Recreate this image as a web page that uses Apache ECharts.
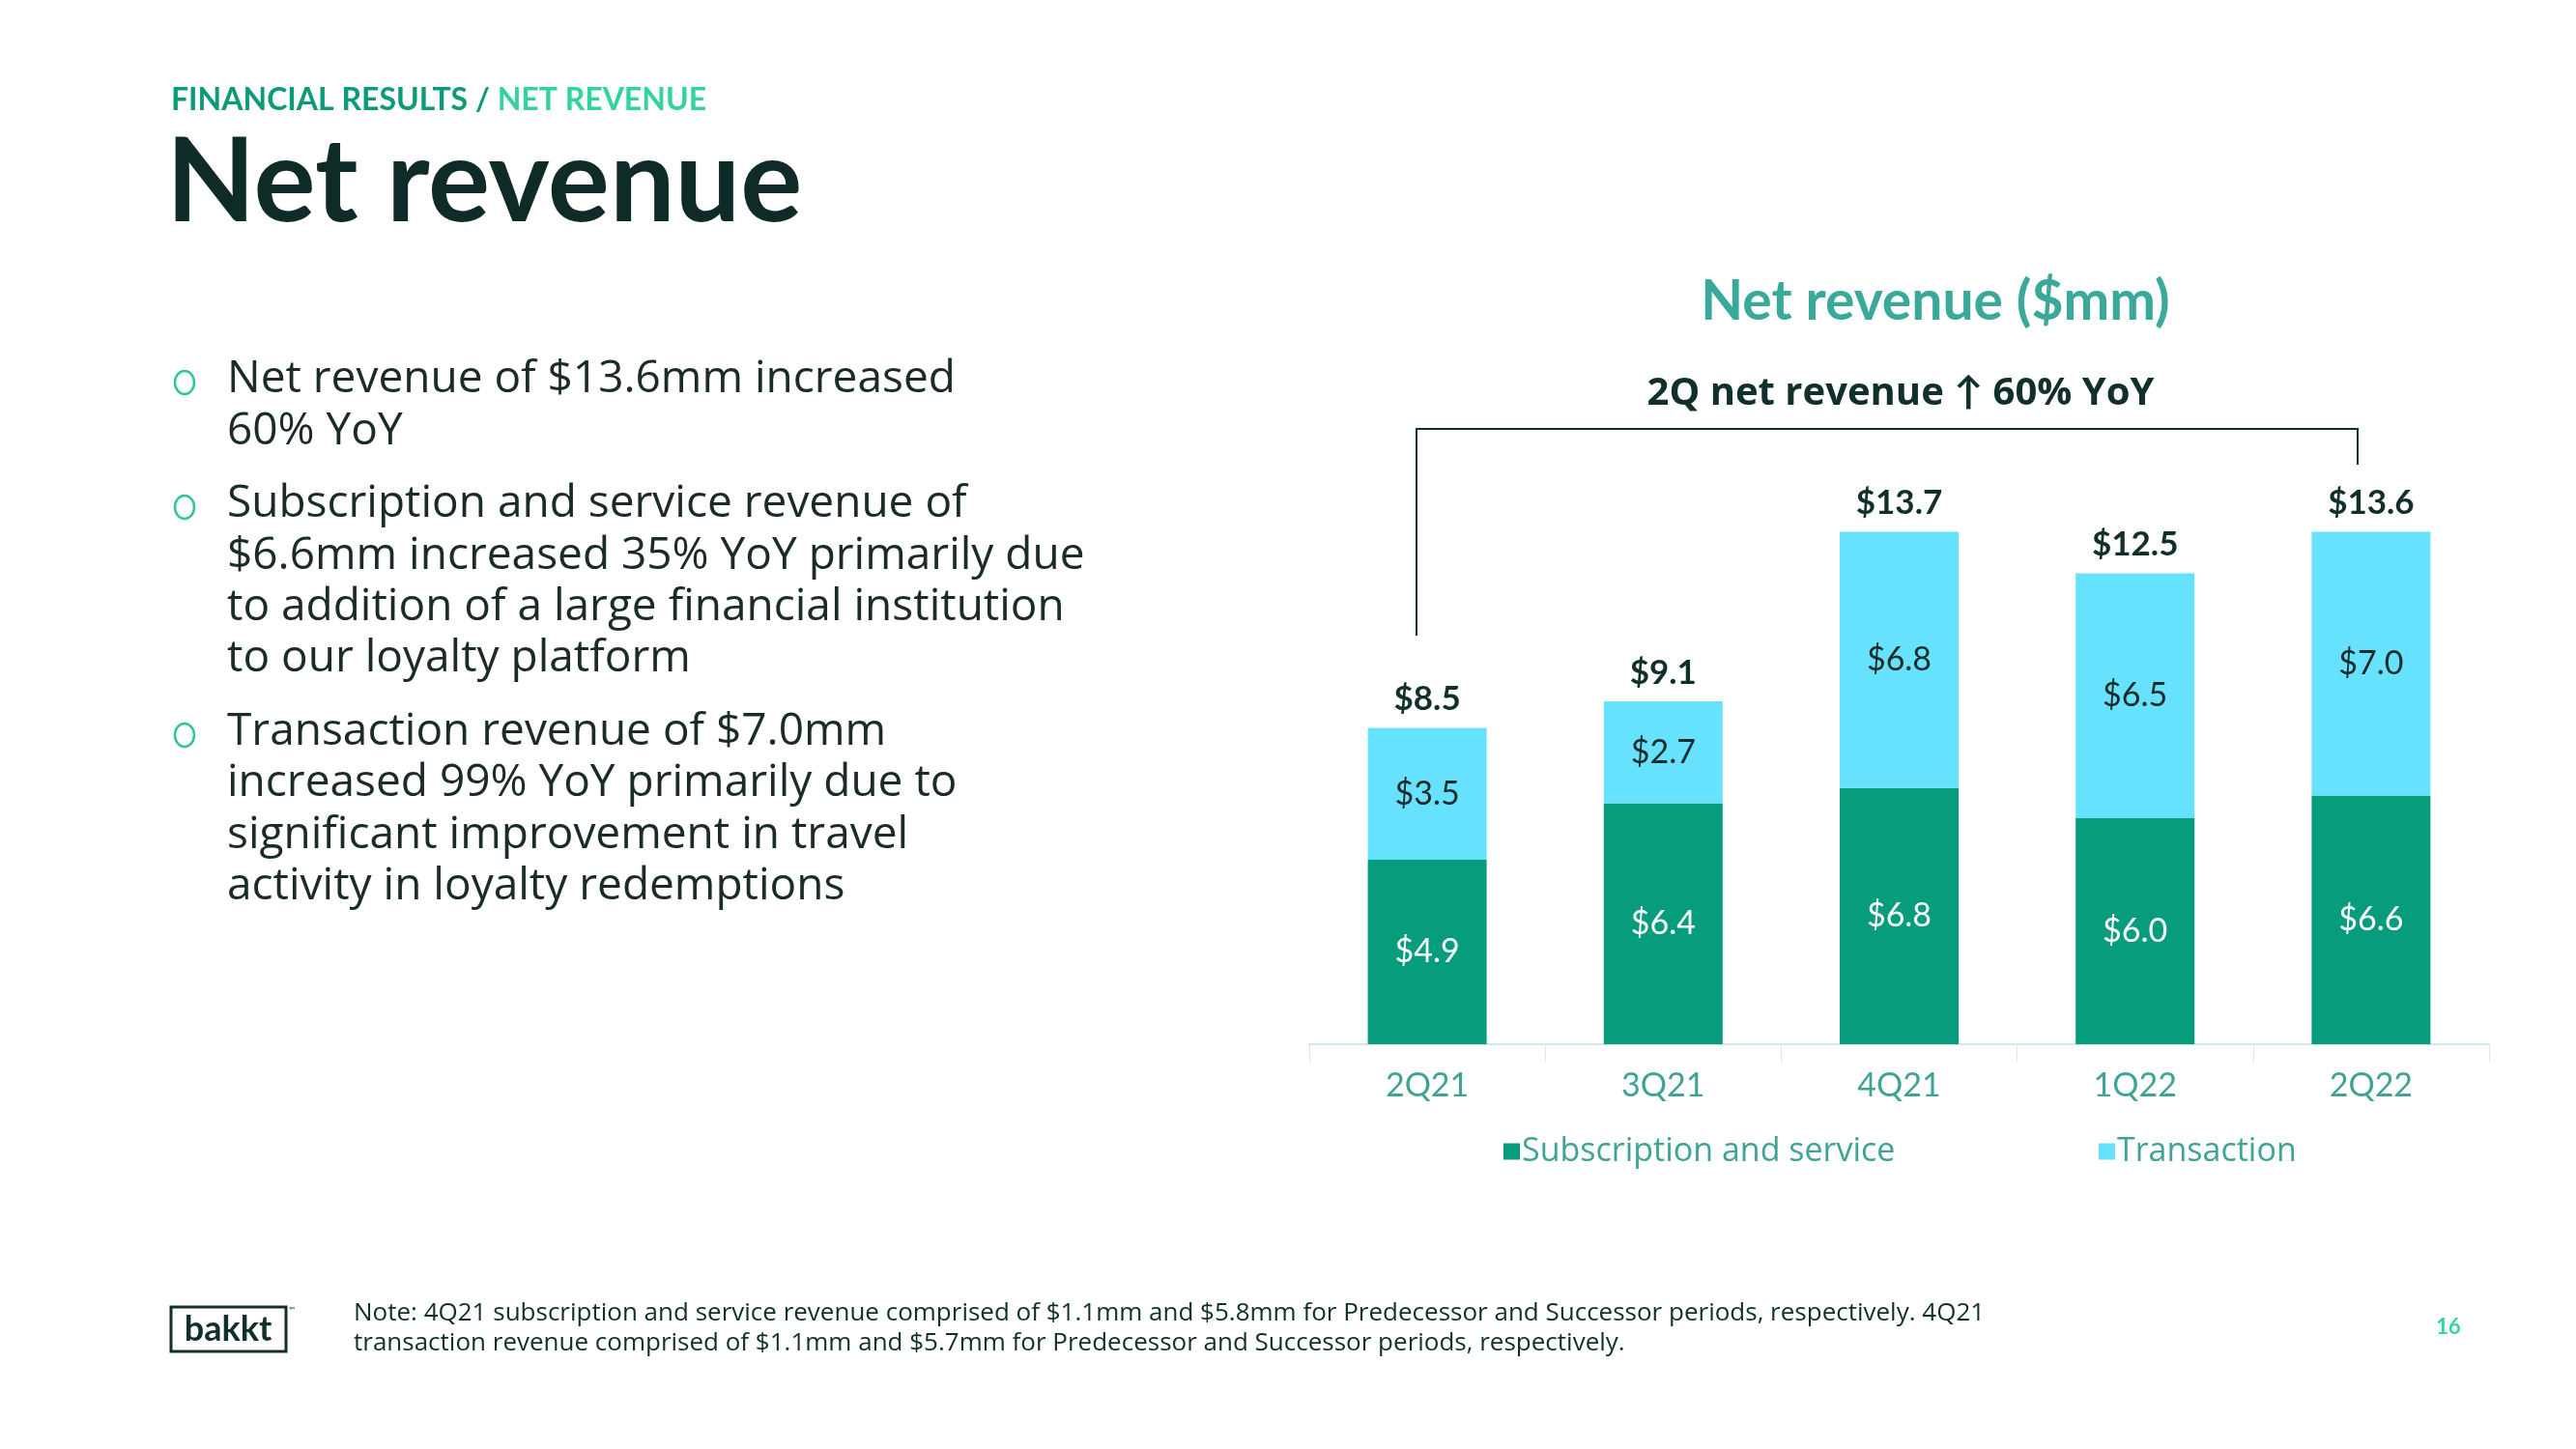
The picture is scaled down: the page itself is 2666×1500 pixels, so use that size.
<!DOCTYPE html>
<html><head><meta charset="utf-8">
<script src="https://cdn.jsdelivr.net/npm/echarts@6/dist/echarts.min.js"></script>
<style>html,body{margin:0;padding:0;background:#fff}#c{width:2666px;height:1500px}</style>
</head><body><div id="c"></div>
<script>
const categories = ['2Q21', '3Q21', '4Q21', '1Q22', '2Q22'];
const subscription = [4.9, 6.4, 6.8, 6.0, 6.6];
const transaction = [3.5, 2.7, 6.8, 6.5, 7.0];
const totals = [8.5, 9.1, 13.7, 12.5, 13.6];
const seriesNames = ['Subscription and service', 'Transaction'];

const FONT = 'Lato, "Noto Sans", sans-serif';
const WFONT = '"Open Sans", Lato, sans-serif';
const DARK = '#12302b';
const TEAL = '#3fa396';
const GREEN = '#069c7c';
const CYAN = '#66e1fe';

const bulletLines = [
  [393, 'Net revenue of $13.6mm increased', true],
  [447, '60% YoY', false],
  [522, 'Subscription and service revenue of', true],
  [576, '$6.6mm increased 35% YoY primarily due', false],
  [629, 'to addition of a large financial institution', false],
  [682, 'to our loyalty platform', false],
  [758, 'Transaction revenue of $7.0mm', true],
  [811, 'increased 99% YoY primarily due to', false],
  [865, 'significant improvement in travel', false],
  [918, 'activity in loyalty redemptions', false]
];

const graphics = [
  {type:'text', x:177, y:104, style:{text:'{a|FINANCIAL RESULTS / }{b|NET REVENUE}', textVerticalAlign:'middle', rich:{a:{fill:'#0b9b79',font:'bold 32px '+FONT},b:{fill:'#33d49b',font:'bold 32px '+FONT}}}},
  {type:'text', x:172, y:190, style:{text:'Net revenue', fill:'#0f2b27', font:'bold 120px '+FONT, textVerticalAlign:'middle'}},
  {type:'text', x:2003, y:313, style:{text:'Net revenue ($mm)', fill:'#3aa99a', font:'bold 57px '+FONT, textAlign:'center', textVerticalAlign:'middle'}},
  {type:'text', x:1967, y:408, style:{text:'2Q net revenue \u2191 60% YoY', fill:DARK, font:'bold 40px '+WFONT, textAlign:'center', textVerticalAlign:'middle'}},
  {type:'polyline', shape:{points:[[1466,658],[1466,444],[2440,444],[2440,481]]}, style:{stroke:DARK, lineWidth:2, fill:null}},
  {type:'rect', shape:{x:177, y:1353, width:119, height:46}, style:{fill:null, stroke:DARK, lineWidth:3}},
  {type:'text', x:236, y:1376, style:{text:'bakkt', fill:DARK, font:'bold 36px '+FONT, textAlign:'center', textVerticalAlign:'middle'}},
  {type:'text', x:299, y:1352, style:{text:'\u2122', fill:DARK, font:'8px '+FONT}},
  {type:'text', x:366, y:1360, style:{text:'Note: 4Q21 subscription and service revenue comprised of $1.1mm and $5.8mm for Predecessor and Successor periods, respectively. 4Q21', fill:DARK, font:'26px '+WFONT, textVerticalAlign:'middle'}},
  {type:'text', x:366, y:1391, style:{text:'transaction revenue comprised of $1.1mm and $5.7mm for Predecessor and Successor periods, respectively.', fill:DARK, font:'26px '+WFONT, textVerticalAlign:'middle'}},
  {type:'text', x:2534, y:1374, style:{text:'16', fill:'#33d49b', font:'bold 22px '+FONT, textAlign:'center', textVerticalAlign:'middle'}}
];
bulletLines.forEach(function(l){
  if (l[2]) graphics.push({type:'ellipse', shape:{cx:191, cy:l[0]+3, rx:10, ry:12}, style:{fill:null, stroke:'#2fc49a', lineWidth:2.5}});
  graphics.push({type:'text', x:235, y:l[0], style:{text:l[1], fill:'#1b2b29', font:'46px '+WFONT, textVerticalAlign:'middle'}});
});

const chart = echarts.init(document.getElementById('c'));
chart.setOption({
  animation:false,
  backgroundColor:'#fff',
  graphic: graphics,
  grid:{left:1355, right:90, top:301, bottom:419},
  xAxis:{type:'category', data:categories, boundaryGap:true,
    axisLine:{lineStyle:{color:'#cfeae6', width:2}},
    axisTick:{show:true, length:18, lineStyle:{color:'#d6ecea', width:1}},
    axisLabel:{color:TEAL, fontSize:34, fontFamily:FONT, margin:26}},
  yAxis:{type:'value', min:0, max:20, show:false, splitLine:{show:false}},
  legend:[
    {data:[seriesNames[0]], left:1551, top:1170, icon:'rect', itemWidth:17, itemHeight:17, itemGap:0,
      textStyle:{color:TEAL, fontSize:34, fontFamily:WFONT, padding:[0,0,0,-3]}},
    {data:[seriesNames[1]], left:2167, top:1170, icon:'rect', itemWidth:17, itemHeight:17, itemGap:0,
      textStyle:{color:TEAL, fontSize:34, fontFamily:WFONT, padding:[0,0,0,-3]}}
  ],
  series:[
    {name:seriesNames[0], type:'bar', stack:'rev', data:subscription, barWidth:123, itemStyle:{color:GREEN},
      label:{show:true, position:'inside', color:'#ffffff', fontSize:34, fontFamily:FONT, formatter:function(p){return '$'+p.value.toFixed(1);}}},
    {name:seriesNames[1], type:'bar', stack:'rev', data:transaction, barWidth:123, itemStyle:{color:CYAN},
      label:{show:true, position:'inside', color:'#1b2b29', fontSize:34, fontFamily:FONT, formatter:function(p){return '$'+p.value.toFixed(1);}}},
    {name:'Total', type:'bar', stack:'rev', data:totals.map(function(){return 0;}), barWidth:123, itemStyle:{color:'transparent'},
      label:{show:true, position:'top', distance:12, color:DARK, fontSize:35, fontWeight:'bold', fontFamily:FONT,
        formatter:function(p){return '$'+totals[p.dataIndex].toFixed(1);}}}
  ]
});
</script></body></html>
